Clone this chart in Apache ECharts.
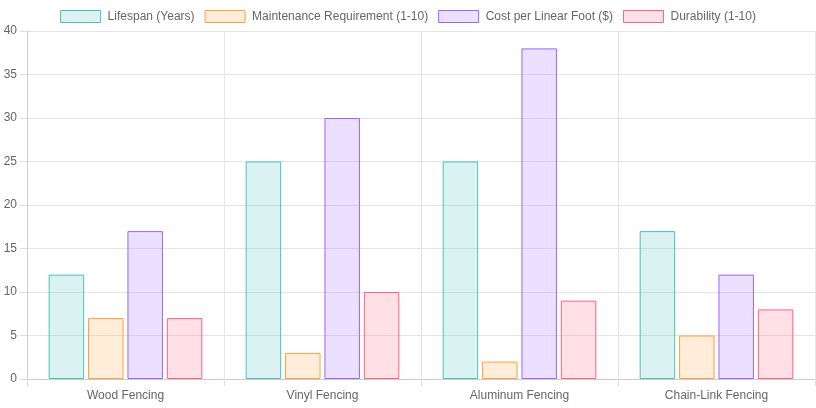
<!DOCTYPE html>
<html>
<head>
<meta charset="utf-8">
<script src="https://cdn.jsdelivr.net/npm/echarts@6/dist/echarts.min.js"></script>
<style>html,body{margin:0;padding:0;background:#fff;}#c{width:816px;height:408px;}</style>
</head>
<body>
<div id="c"></div>
<script>
const categories = ['Wood Fencing', 'Vinyl Fencing', 'Aluminum Fencing', 'Chain-Link Fencing'];
const seriesNames = ['Lifespan (Years)', 'Maintenance Requirement (1-10)', 'Cost per Linear Foot ($)', 'Durability (1-10)'];
const lifespan = [12, 25, 25, 17];
const maintenance = [7, 3, 2, 5];
const cost = [17, 30, 38, 12];
const durability = [7, 10, 9, 8];
const yTicks = [0, 5, 10, 15, 20, 25, 30, 35, 40];

const colors = [[75,192,192],[255,159,64],[153,102,255],[255,99,132]];
const values = [lifespan, maintenance, cost, durability];
const font = "'Liberation Sans', Arial, sans-serif";

const chart = echarts.init(document.getElementById('c'));
chart.setOption({
  animation: false,
  textStyle: { fontFamily: font },
  legend: {
    top: 5, left: 'center',
    itemWidth: 40, itemHeight: 12, itemGap: 10,
    textStyle: { color: '#666', fontSize: 12, fontFamily: font, padding: [0, 0, 0, 2] },
    data: seriesNames.map((n, i) => ({
      name: n, icon: 'rect',
      itemStyle: { color: `rgba(${colors[i].join(',')},0.2)`, borderColor: `rgb(${colors[i].join(',')})`, borderWidth: 1 }
    }))
  },
  grid: { left: 27, right: 1, top: 31, bottom: 29 },
  xAxis: {
    type: 'category', data: categories,
    axisLine: { lineStyle: { color: '#ccc' } },
    axisTick: { show: true, length: 7, lineStyle: { color: '#ddd' } },
    splitLine: { show: true, lineStyle: { color: '#e5e5e5' } },
    axisLabel: { color: '#666', fontSize: 12, margin: 11, fontFamily: font }
  },
  yAxis: {
    type: 'value', min: yTicks[0], max: yTicks[yTicks.length - 1], interval: 5,
    axisLine: { show: true, lineStyle: { color: '#ccc' } },
    axisTick: { show: true, length: 7, lineStyle: { color: '#ddd' } },
    splitLine: { lineStyle: { color: '#e5e5e5' } },
    axisLabel: { color: '#666', fontSize: 12, margin: 10, fontFamily: font }
  },
  series: seriesNames.map((n, i) => ({
    name: n, type: 'bar', data: values[i],
    barCategoryGap: '22%', barGap: '11%',
    itemStyle: { color: `rgba(${colors[i].join(',')},0.2)`, borderColor: `rgb(${colors[i].join(',')})`, borderWidth: 1 }
  }))
});
</script>
</body>
</html>
